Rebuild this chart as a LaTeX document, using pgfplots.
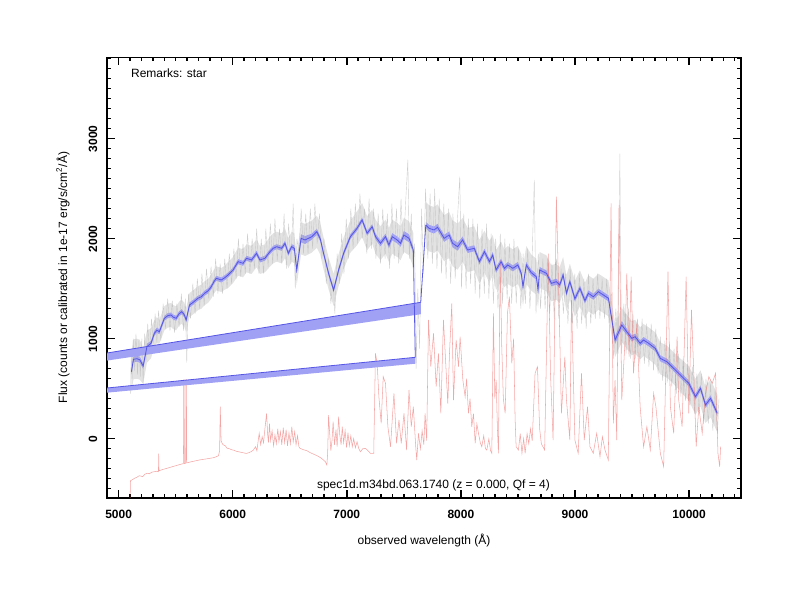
\documentclass[border=0pt]{standalone}
\usepackage{fontspec}
\setmainfont{Liberation Sans}
\usepackage{pgfplots}
\pgfplotsset{compat=1.18}
\usepackage{pgfplotstable}
\usepgfplotslibrary{fillbetween}
\definecolor{bline}{RGB}{85,85,230}
\definecolor{bfill}{RGB}{160,160,245}
\definecolor{rline}{RGB}{236,105,105}
\definecolor{gfill}{RGB}{218,218,218}
\definecolor{gline}{RGB}{190,190,190}

% blue-arm smoothed spectrum: x, flux, blue error, gray noise half-width
\pgfplotstableread{
x y e g
5112 670 30 200
5130 794 30 200
5160 800 30 200
5185 790 30 200
5215 727 30 180
5248 920 30 160
5284 954 25 150
5313 1054 25 130
5335 1085 25 130
5357 1070 25 120
5380 1140 25 120
5401 1204 25 120
5430 1230 25 120
5460 1237 25 120
5480 1215 25 120
5504 1204 25 120
5530 1250 25 120
5553 1270 25 120
5575 1240 25 120
5592 1187 25 120
5621 1337 25 120
5660 1370 25 120
5694 1404 25 120
5725 1420 25 120
5753 1454 25 120
5785 1480 25 120
5812 1520 25 120
5835 1570 25 120
5856 1604 25 120
5900 1587 25 120
5930 1610 25 120
5959 1637 25 130
6003 1687 25 130
6047 1770 25 140
6091 1754 25 140
6121 1804 25 140
6165 1787 25 140
6209 1854 25 140
6238 1787 25 140
6282 1804 25 140
6326 1870 25 150
6355 1904 25 150
6385 1920 25 150
6429 1904 25 150
6458 1954 25 150
6487 1854 25 150
6517 1920 25 150
6540 1904 30 150
6561 1687 30 150
6599 2004 40 160
6634 1987 40 160
6693 2020 30 160
6737 2070 30 160
6767 2000 25 160
6796 1854 25 160
6840 1654 25 160
6884 1487 25 160
6928 1687 25 160
6972 1854 25 160
7031 2020 25 160
7090 2104 25 170
7134 2187 25 170
7178 2054 25 170
7222 2120 25 170
7252 2020 30 170
7295 1954 30 170
7339 2020 30 170
7369 1937 35 170
7398 2020 35 170
7442 1987 35 170
7471 1954 35 170
7500 2037 40 170
7545 2004 40 170
7583 1887 30 170
}\tabA

% red-arm smoothed spectrum
\pgfplotstableread{
x y e g
7692 2137 30 230
7721 2104 35 230
7765 2087 35 230
7795 2114 35 230
7818 2070 35 230
7853 2004 35 230
7897 2037 35 230
7927 1954 40 230
7971 1920 40 230
8015 1987 35 220
8059 1887 30 220
8117 1904 30 220
8162 1770 30 220
8206 1870 30 210
8250 1770 30 210
8279 1837 30 200
8308 1687 30 200
8352 1770 30 200
8381 1704 30 190
8411 1737 30 190
8455 1704 30 190
8499 1737 30 190
8529 1654 30 190
8544 1520 30 190
8573 1737 30 190
8617 1660 30 180
8661 1620 30 180
8676 1487 30 180
8690 1687 30 180
8749 1654 30 180
8793 1554 30 180
8837 1570 30 180
8866 1537 30 180
8896 1637 30 180
8925 1454 30 180
8955 1570 30 180
8999 1400 30 180
9043 1504 30 180
9087 1380 30 180
9117 1454 30 180
9161 1420 30 180
9205 1470 30 180
9249 1437 30 180
9293 1404 30 180
9351 987 40 170
9410 1137 40 170
9454 1070 30 170
9498 1004 30 170
9527 1020 30 170
9571 954 30 160
9601 987 30 160
9645 954 30 160
9703 904 30 160
9747 804 30 160
9806 770 30 160
9850 720 30 160
9909 654 30 160
9953 604 30 170
9997 554 30 170
10056 420 30 180
10100 504 30 180
10144 337 30 180
10188 404 30 190
10247 254 30 190
}\tabB

% raw (noisy) spectrum
\pgfplotstableread{
x y
5105 450
5110 900
5118 600
5128 1000
5140 680
5152 1050
5165 640
5178 980
5190 620
5203 1000
5215 560
5228 1050
5240 780
5255 1150
5270 850
5288 1200
5303 950
5320 1250
5335 960
5350 1280
5370 980
5390 1350
5410 1100
5430 1400
5450 1080
5470 1380
5490 1060
5510 1350
5530 1120
5550 1450
5568 1080
5585 1400
5597 760
5612 1450
5630 1200
5650 1550
5670 1250
5690 1600
5710 1300
5730 1650
5750 1330
5770 1700
5790 1400
5810 1720
5830 1420
5850 1800
5870 1450
5890 1750
5910 1450
5930 1800
5950 1500
5970 1850
5990 1550
6010 1900
6030 1600
6050 2000
6070 1620
6090 1950
6110 1650
6130 2050
6150 1650
6170 2000
6190 1700
6210 2100
6230 1650
6250 2000
6270 1650
6290 2100
6310 1720
6330 2150
6350 1750
6370 2200
6390 1780
6410 2100
6430 1750
6450 2250
6470 1700
6490 2150
6510 1750
6530 2350
6548 1500
6563 2000
6580 1850
6600 2300
6620 1850
6640 2250
6660 1850
6680 2300
6700 1900
6720 2350
6740 1950
6760 2250
6780 1800
6800 2000
6820 1550
6840 1800
6860 1350
6880 1600
6895 1250
6915 1850
6935 1550
6955 2050
6975 1650
6995 2200
7015 1800
7035 2300
7055 1900
7075 2350
7095 1950
7115 2450
7135 2000
7155 2300
7175 1850
7195 2400
7215 1900
7235 2300
7255 1800
7275 2250
7295 1750
7315 2300
7335 1800
7355 2250
7375 1700
7395 2350
7415 1800
7435 2300
7455 1750
7475 2400
7495 1850
7515 2350
7535 2790
7548 1800
7565 2250
7580 1700
7595 1950
7608 700
7622 1500
7638 900
7655 2300
7672 1650
7690 2500
7710 1800
7730 2450
7750 1750
7770 2500
7790 1700
7810 2400
7830 1650
7850 2350
7870 1600
7890 2300
7910 1550
7930 2250
7950 1600
7970 2200
7990 2620
8005 1500
8025 2250
8045 1500
8065 2200
8085 1550
8105 2200
8125 1450
8145 2150
8165 1400
8185 2100
8205 1450
8225 2150
8245 1400
8265 2050
8285 1350
8305 2000
8325 1300
8345 2050
8365 1350
8385 2000
8405 1400
8425 1950
8445 1350
8465 2000
8485 1350
8505 1900
8525 1300
8545 1850
8565 1350
8585 1900
8605 1300
8625 1850
8643 2587
8658 1250
8678 1850
8698 1300
8718 1800
8738 1300
8758 1800
8778 1250
8798 1750
8818 1200
8838 1800
8858 1200
8878 1700
8898 1250
8918 1650
8938 1150
8958 1700
8978 1150
8998 1650
9018 1100
9038 1650
9058 1150
9078 1600
9098 1100
9118 1650
9138 1150
9158 1600
9178 1200
9198 1650
9218 1200
9238 1600
9258 1200
9278 1600
9298 1150
9318 1450
9338 800
9358 1300
9378 850
9393 2850
9408 850
9428 1350
9448 850
9468 1300
9488 800
9508 1250
9528 800
9548 1200
9568 750
9588 1200
9608 750
9628 1150
9648 720
9668 1150
9688 680
9708 1100
9728 650
9748 1020
9768 580
9788 980
9808 560
9828 950
9848 520
9868 900
9888 450
9908 850
9928 420
9948 800
9968 380
9988 750
10008 330
10028 720
10048 250
10068 650
10088 250
10108 650
10128 150
10148 600
10168 150
10188 550
10208 80
10228 500
10248 50
10262 400
}\tabG

% sky spectrum
\pgfplotstableread{
x y
5100 -620
5104 -420
5120 -410
5140 -395
5160 -385
5180 -370
5200 -375
5210 -380
5230 -355
5250 -345
5270 -350
5290 -335
5310 -330
5335 -325
5349 -330
5351 -150
5354 -320
5380 -310
5410 -300
5440 -290
5470 -280
5500 -270
5530 -260
5562 -250
5568 -250
5571 590
5574 590
5576 -248
5588 -245
5590 590
5594 590
5596 -242
5630 -232
5670 -222
5710 -212
5750 -205
5790 -198
5830 -190
5856 -180
5875 -170
5885 -120
5891 320
5898 -20
5905 -40
5915 -60
5935 -70
5950 -95
5970 -100
5990 -110
6010 -115
6030 -125
6050 -130
6070 -135
6090 -140
6120 -147
6140 -140
6160 -130
6180 -115
6200 -80
6212 -120
6222 -30
6232 54
6245 -60
6258 20
6270 -40
6284 120
6297 254
6305 60
6313 -40
6322 150
6332 -20
6345 80
6358 -70
6370 40
6382 -50
6395 100
6405 -30
6418 70
6430 -60
6443 110
6455 -40
6468 90
6480 -70
6493 60
6505 -50
6518 120
6530 -30
6543 70
6555 -60
6568 30
6580 -80
6590 -96
6620 -110
6650 -120
6680 -140
6710 -155
6740 -170
6770 -190
6796 -213
6812 -230
6825 -263
6832 -150
6840 237
6850 50
6860 -120
6870 -20
6880 170
6892 -60
6905 90
6915 -80
6928 220
6938 40
6950 -60
6960 120
6972 -40
6985 80
6998 -90
7010 60
7022 -70
7035 30
7048 -80
7060 0
7075 -90
7090 -30
7105 -100
7119 -130
7140 -100
7163 -96
7185 -120
7207 -146
7236 -146
7251 854
7266 754
7281 420
7301 154
7319 620
7339 554
7360 120
7383 -80
7413 454
7436 -46
7457 187
7477 -46
7501 254
7524 -113
7545 487
7565 120
7583 320
7604 -80
7613 -213
7628 54
7645 -100
7660 80
7675 -60
7686 254
7700 -20
7716 1187
7736 720
7760 1054
7783 520
7803 854
7824 254
7847 1187
7870 687
7885 350
7900 854
7920 1354
7935 387
7958 987
7979 720
7993 1020
8017 587
8037 420
8050 600
8066 254
8080 400
8095 120
8110 250
8125 -46
8140 150
8154 54
8170 -40
8183 -80
8200 30
8215 -100
8227 -113
8245 0
8260 -120
8271 -146
8285 1254
8297 400
8309 587
8320 100
8329 -146
8344 1787
8358 920
8372 400
8388 254
8408 1254
8425 1420
8446 754
8462 1000
8475 200
8484 -80
8504 -113
8520 50
8535 -146
8550 0
8563 -146
8580 50
8595 -50
8610 100
8625 -20
8650 654
8671 720
8690 100
8705 -50
8734 -113
8766 1850
8785 654
8808 -13
8837 2420
8867 987
8881 254
8911 820
8925 387
8955 -13
8969 1387
8999 -13
9028 -146
9057 654
9081 -13
9110 320
9131 -80
9160 -146
9190 54
9219 -180
9240 20
9263 -113
9292 -213
9316 2354
9336 154
9351 587
9366 -13
9386 2337
9410 387
9439 987
9454 1654
9474 820
9492 1620
9513 654
9542 1154
9571 320
9601 -80
9630 120
9660 -113
9689 454
9709 320
9748 -146
9777 -280
9815 1670
9836 320
9865 54
9895 1020
9909 387
9939 120
9974 1620
9997 254
10021 1287
10041 654
10062 -80
10085 320
10115 54
10144 454
10173 620
10203 554
10232 654
10253 -146
10268 -280
10276 -80
}\tabR

\begin{document}
\begin{tikzpicture}
\begin{axis}[
  at={(80.25pt,76.7pt)}, anchor=south west,
  scale only axis, width=475.5pt, height=330.2pt,
  xmin=4898, xmax=10455, ymin=-590, ymax=3812,
  axis line style={line width=1.4pt},
  tick align=inside,
  xtick={5000,6000,7000,8000,9000,10000},
  ytick={0,1000,2000,3000},
  minor xtick={4900,5000,...,10400},
  minor ytick={-500,-400,...,3800},
  major tick length=6pt, minor tick length=3pt,
  tick style={black, line width=1.1pt},
  scaled ticks=false,
  /pgf/number format/1000 sep={},
  /pgf/number format/assume math mode=true,
  ticklabel style={font=\fontsize{9}{11}\selectfont\bfseries},
  xticklabel style={anchor=center, yshift=-12.2pt},
  yticklabel style={anchor=center, xshift=-10.5pt, rotate=90},
  every axis x label/.style={at={(axis description cs:0.5,0)}, yshift=-31.9pt, anchor=center},
  every axis y label/.style={at={(axis description cs:0,0.5)}, xshift=-33pt, rotate=90, anchor=center},
  label style={font=\fontsize{9}{11}\selectfont},
  xlabel={observed wavelength (Å)},
  ylabel={Flux (counts or calibrated in 1e-17 erg/s/cm\textsuperscript{2}/Å)},
]
% gray noise core
\addplot[draw=none, name path=gAu, forget plot] table[x=x, y expr=\thisrow{y}+\thisrow{g}] {\tabA};
\addplot[draw=none, name path=gAl, forget plot] table[x=x, y expr=\thisrow{y}-\thisrow{g}] {\tabA};
\addplot[gfill, opacity=0.75] fill between[of=gAu and gAl];
\addplot[draw=none, name path=gBu, forget plot] table[x=x, y expr=\thisrow{y}+\thisrow{g}] {\tabB};
\addplot[draw=none, name path=gBl, forget plot] table[x=x, y expr=\thisrow{y}-\thisrow{g}] {\tabB};
\addplot[gfill, opacity=0.75] fill between[of=gBu and gBl];
% raw spectrum
\addplot[gline, line width=0.3pt, opacity=0.75] table[x=x, y=y] {\tabG};
% sky
\addplot[rline, line width=0.4pt, opacity=0.6] table[x=x, y=y] {\tabR};
% spurious wrap-around bands
\addplot[draw=none, fill=bfill] coordinates {(4800,496) (7600,814) (7600,750) (4800,450) (4800,496)};
\addplot[draw=none, fill=bfill] coordinates {(4800,839) (7648,1364) (7648,1245) (4800,765) (4800,839)};
% blue error bands
\addplot[draw=none, name path=bAu, forget plot] table[x=x, y expr=\thisrow{y}+\thisrow{e}] {\tabA};
\addplot[draw=none, name path=bAl, forget plot] table[x=x, y expr=\thisrow{y}-\thisrow{e}] {\tabA};
\addplot[bfill] fill between[of=bAu and bAl];
\addplot[draw=none, name path=bBu, forget plot] table[x=x, y expr=\thisrow{y}+\thisrow{e}] {\tabB};
\addplot[draw=none, name path=bBl, forget plot] table[x=x, y expr=\thisrow{y}-\thisrow{e}] {\tabB};
\addplot[bfill] fill between[of=bBu and bBl];
% smoothed spectrum
\addplot[bline, line width=0.6pt] table[x=x, y=y] {\tabA};
\addplot[bline, line width=0.6pt] coordinates {(7583,1887) (7600,814) (4800,496) (4800,839) (7648,1364) (7692,2137)};
\addplot[bline, line width=0.6pt] table[x=x, y=y] {\tabB};
\node[anchor=west, inner sep=0pt, font=\fontsize{9}{11}\selectfont] at (axis cs:5107,3657) {Remarks: star};
\node[inner sep=0pt, font=\fontsize{9}{11}\selectfont] at (axis cs:7759,-463) {spec1d.m34bd.063.1740 (z = 0.000, Qf = 4)};
\end{axis}
\pgfresetboundingbox
\path[use as bounding box] (0,0) rectangle (600pt,450pt);
\end{tikzpicture}
\end{document}
